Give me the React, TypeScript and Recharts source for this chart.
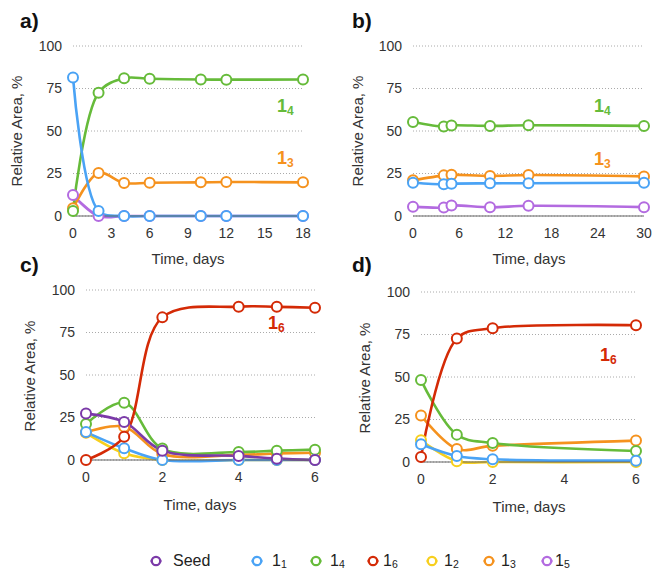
import React from 'react';
import { LineChart, Line, XAxis, YAxis, CartesianGrid } from 'recharts';

// ---------- data ----------
const daysA = [0, 2, 4, 6, 10, 12, 18];
const a11 = [81.5, 3, 0, 0, 0, 0, 0];
const a13 = [4.5, 25.3, 19.4, 19.6, 19.8, 20, 19.8];
const a14 = [3, 72.5, 81, 80.7, 80.3, 80.2, 80.3];
const a15 = [12.3, 0, 0, 0, 0, 0, 0];

const daysB = [0, 4, 5, 10, 15, 30];
const b11 = [19.6, 18.7, 19, 19.2, 19.3, 19.6];
const b13 = [21, 23.9, 24.3, 23.6, 24.1, 23.3];
const b14 = [55.3, 52.6, 53.3, 53, 53.4, 53];
const b15 = [5.5, 5, 6.2, 5.1, 6, 5.2];

const daysC = [0, 1, 2, 4, 5, 6];
const cSeed = [27.3, 22.4, 5.5, 2.4, 0.8, 0];
const c11 = [16.4, 6.9, 0, 0, 0, 0];
const c14 = [21.2, 33.7, 6.7, 4.7, 5.5, 6.1];
const c16 = [0, 13.7, 83.9, 90.2, 90.1, 89.6];
const c12 = [16, 4, 0, 0, 0, 0];
const c13 = [16.3, 19.6, 3.5, 3, 3.8, 4.3];

const daysD = [0, 1, 2, 6];
const d11 = [10.4, 3.5, 1.6, 0.8];
const d14 = [48.2, 16.1, 11.2, 6.5];
const d16 = [3, 72.6, 78.7, 80.4];
const d12 = [12.8, 0.4, 0, 0];
const d13 = [27.4, 7.7, 9.5, 12.6];

const yTicks = [0, 25, 50, 75, 100];
const xTicksA = [0, 3, 6, 9, 12, 15, 18];
const xTicksB = [0, 6, 12, 18, 24, 30];
const xTicksCD = [0, 2, 4, 6];

const legendNames = ['Seed', '1', '1', '1', '1', '1', '1'];
const legendSubs = ['', '1', '4', '6', '2', '3', '5'];

// ---------- style ----------
const COLORS: Record<string, string> = {
  seed: '#7b3aa8',
  s11: '#4aa3f5',
  s14: '#66bb3a',
  s16: '#d42a06',
  s12: '#f7cf1e',
  s13: '#f5921e',
  s15: '#b36be0',
};
const legendKeys = ['seed', 's11', 's14', 's16', 's12', 's13', 's15'];
const FONT = '"Liberation Sans", Arial, Helvetica, sans-serif';
const TXT = '#333';

// centripetal Catmull-Rom curve (alpha 0.5)
function catmullRomCurve(context: any) {
  const alpha = 0.5;
  const eps = 1e-12;
  const s: any = { _line: undefined };
  const pt = (x: number, y: number) => {
    let x1 = s._x1, y1 = s._y1, x2 = s._x2, y2 = s._y2;
    if (s._l01_a > eps) {
      const a = 2 * s._l01_2a + 3 * s._l01_a * s._l12_a + s._l12_2a;
      const n = 3 * s._l01_a * (s._l01_a + s._l12_a);
      x1 = (x1 * a - s._x0 * s._l12_2a + s._x2 * s._l01_2a) / n;
      y1 = (y1 * a - s._y0 * s._l12_2a + s._y2 * s._l01_2a) / n;
    }
    if (s._l23_a > eps) {
      const b = 2 * s._l23_2a + 3 * s._l23_a * s._l12_a + s._l12_2a;
      const m = 3 * s._l23_a * (s._l23_a + s._l12_a);
      x2 = (x2 * b + s._x1 * s._l23_2a - x * s._l12_2a) / m;
      y2 = (y2 * b + s._y1 * s._l23_2a - y * s._l12_2a) / m;
    }
    context.bezierCurveTo(x1, y1, x2, y2, s._x2, s._y2);
  };
  const obj: any = {
    areaStart() { s._line = 0; },
    areaEnd() { s._line = NaN; },
    lineStart() {
      s._x0 = s._x1 = s._x2 = s._y0 = s._y1 = s._y2 = NaN;
      s._l01_a = s._l12_a = s._l23_a = s._l01_2a = s._l12_2a = s._l23_2a = 0;
      s._point = 0;
    },
    lineEnd() {
      switch (s._point) {
        case 2: context.lineTo(s._x2, s._y2); break;
        case 3: obj.point(s._x2, s._y2); break;
      }
      if (s._line || (s._line !== 0 && s._point === 1)) context.closePath();
      s._line = 1 - s._line;
    },
    point(x: number, y: number) {
      x = +x; y = +y;
      if (s._point) {
        const x23 = s._x2 - x, y23 = s._y2 - y;
        s._l23_2a = Math.pow(x23 * x23 + y23 * y23, alpha);
        s._l23_a = Math.sqrt(s._l23_2a);
      }
      switch (s._point) {
        case 0:
          s._point = 1;
          s._line ? context.lineTo(x, y) : context.moveTo(x, y);
          break;
        case 1:
          s._point = 2;
          break;
        case 2:
          s._point = 3;
          pt(x, y);
          break;
        default:
          pt(x, y);
          break;
      }
      s._l01_a = s._l12_a; s._l12_a = s._l23_a;
      s._l01_2a = s._l12_2a; s._l12_2a = s._l23_2a;
      s._x0 = s._x1; s._x1 = s._x2; s._x2 = x;
      s._y0 = s._y1; s._y1 = s._y2; s._y2 = y;
    },
  };
  return obj;
}

function build(days: number[], series: Record<string, number[]>) {
  return days.map((d, i) => {
    const row: any = { day: d };
    Object.keys(series).forEach((k) => { row[k] = series[k][i]; });
    return row;
  });
}

const dataA = build(daysA, { s15: a15, s13: a13, s14: a14, s11: a11 });
const dataB = build(daysB, { s15: b15, s11: b11, s13: b13, s14: b14 });
const dataC = build(daysC, { s12: c12, s13: c13, s14: c14, s11: c11, s16: c16, seed: cSeed });
const dataD = build(daysD, { s12: d12, s13: d13, s14: d14, s11: d11, s16: d16 });

type PanelProps = {
  data: any[];
  keys: string[];
  xTicks: number[];
  xMax: number;
  left: number;
  top: number;
  width: number;
  height: number;
  margin: { top: number; right: number; bottom: number; left: number };
};

function Panel({ data, keys, xTicks, xMax, left, top, width, height, margin }: PanelProps) {
  return (
    <div style={{ position: 'absolute', left, top, width, height }}>
      <LineChart width={width} height={height} data={data} margin={margin}>
        <CartesianGrid horizontal vertical={false} stroke="#aaa" strokeDasharray="1 2" />
        <XAxis
          dataKey="day"
          type="number"
          domain={[0, xMax]}
          ticks={xTicks}
          interval={0}
          tickLine={false}
          tickSize={6}
          tickMargin={6}
          axisLine={{ stroke: '#666', strokeWidth: 1.2 }}
          tick={{ fill: TXT, fontSize: 14, fontFamily: FONT }}
          height={30}
        />
        <YAxis
          type="number"
          domain={[0, 100]}
          ticks={yTicks}
          interval={0}
          tickLine={false}
          axisLine={false}
          tickSize={6}
          tickMargin={5}
          width={40}
          tick={{ fill: TXT, fontSize: 14, fontFamily: FONT }}
        />
        {keys.map((k) => (
          <Line
            key={k}
            dataKey={k}
            type={catmullRomCurve as any}
            stroke={COLORS[k]}
            strokeWidth={2.6}
            dot={{ r: 5, fill: '#fff', stroke: COLORS[k], strokeWidth: 2 }}
            isAnimationActive={false}
          />
        ))}
      </LineChart>
    </div>
  );
}

function SeriesLabel({ x, y, color, sub }: { x: number; y: number; color: string; sub: string }) {
  return (
    <text x={x} y={y} fill={color} fontFamily={FONT} fontWeight="bold" fontSize={18}>
      1
      <tspan fontSize={12} dy={3}>{sub}</tspan>
    </text>
  );
}

export default function App() {
  const axisTitle = { fill: TXT, fontFamily: FONT, fontSize: 15 } as any;
  return (
    <div style={{ position: 'absolute', left: 0, top: 0, width: 654, height: 571, background: '#fff', overflow: 'hidden' }}>
      <Panel data={dataA} keys={['s15', 's13', 's14', 's11']} xTicks={xTicksA} xMax={18}
        left={0} top={0} width={327} height={270}
        margin={{ top: 46, right: 24, bottom: 24, left: 33 }} />
      <Panel data={dataB} keys={['s15', 's13', 's11', 's14']} xTicks={xTicksB} xMax={30}
        left={327} top={0} width={327} height={270}
        margin={{ top: 46, right: 10, bottom: 24, left: 46 }} />
      <Panel data={dataC} keys={['s12', 's13', 's14', 's11', 's16', 'seed']} xTicks={xTicksCD} xMax={6}
        left={0} top={270} width={327} height={250}
        margin={{ top: 20, right: 12, bottom: 30, left: 46 }} />
      <Panel data={dataD} keys={['s12', 's13', 's14', 's11', 's16']} xTicks={xTicksCD} xMax={6}
        left={327} top={270} width={327} height={250}
        margin={{ top: 22, right: 18, bottom: 28, left: 54 }} />

      <svg width={654} height={571} style={{ position: 'absolute', left: 0, top: 0, pointerEvents: 'none' }}>
        {/* panel letters */}
        <text x={20} y={28} fontFamily={FONT} fontWeight="bold" fontSize={21} fill="#111">a)</text>
        <text x={352} y={28} fontFamily={FONT} fontWeight="bold" fontSize={21} fill="#111">b)</text>
        <text x={20} y={272} fontFamily={FONT} fontWeight="bold" fontSize={21} fill="#111">c)</text>
        <text x={352} y={272} fontFamily={FONT} fontWeight="bold" fontSize={21} fill="#111">d)</text>

        {/* axis titles */}
        <text x={188} y={264} textAnchor="middle" {...axisTitle}>Time, days</text>
        <text x={529} y={264} textAnchor="middle" {...axisTitle}>Time, days</text>
        <text x={200} y={510} textAnchor="middle" {...axisTitle}>Time, days</text>
        <text x={529} y={512} textAnchor="middle" {...axisTitle}>Time, days</text>

        <text transform="translate(22,131) rotate(-90)" textAnchor="middle" {...axisTitle}>Relative Area, %</text>
        <text transform="translate(363,131) rotate(-90)" textAnchor="middle" {...axisTitle}>Relative Area, %</text>
        <text transform="translate(35,376) rotate(-90)" textAnchor="middle" {...axisTitle}>Relative Area, %</text>
        <text transform="translate(370,378) rotate(-90)" textAnchor="middle" {...axisTitle}>Relative Area, %</text>

        {/* series labels */}
        <SeriesLabel x={277} y={112} color={COLORS.s14} sub="4" />
        <SeriesLabel x={277} y={164} color={COLORS.s13} sub="3" />
        <SeriesLabel x={594} y={112} color={COLORS.s14} sub="4" />
        <SeriesLabel x={594} y={165} color={COLORS.s13} sub="3" />
        <SeriesLabel x={268} y={329} color={COLORS.s16} sub="6" />
        <SeriesLabel x={600} y={361} color={COLORS.s16} sub="6" />

        {/* legend */}
        {legendKeys.map((k, i) => {
          const mx = [156, 257, 316, 373, 432, 489, 547][i];
          const tx = [173, 272, 330, 383, 444, 501, 555][i];
          const c = COLORS[k];
          return (
            <g key={k}>
              <line x1={mx - 5.5} x2={mx + 5.5} y1={561} y2={561} stroke={c} strokeWidth={2.5} />
              <circle cx={mx} cy={561} r={4.2} fill="#fff" stroke={c} strokeWidth={2.2} />
              <text x={tx} y={566} fontFamily={FONT} fontSize={16} fill="#222">
                {legendNames[i]}
                {legendSubs[i] ? <tspan fontSize={10.5} dy={2}>{legendSubs[i]}</tspan> : null}
              </text>
            </g>
          );
        })}
      </svg>
    </div>
  );
}
